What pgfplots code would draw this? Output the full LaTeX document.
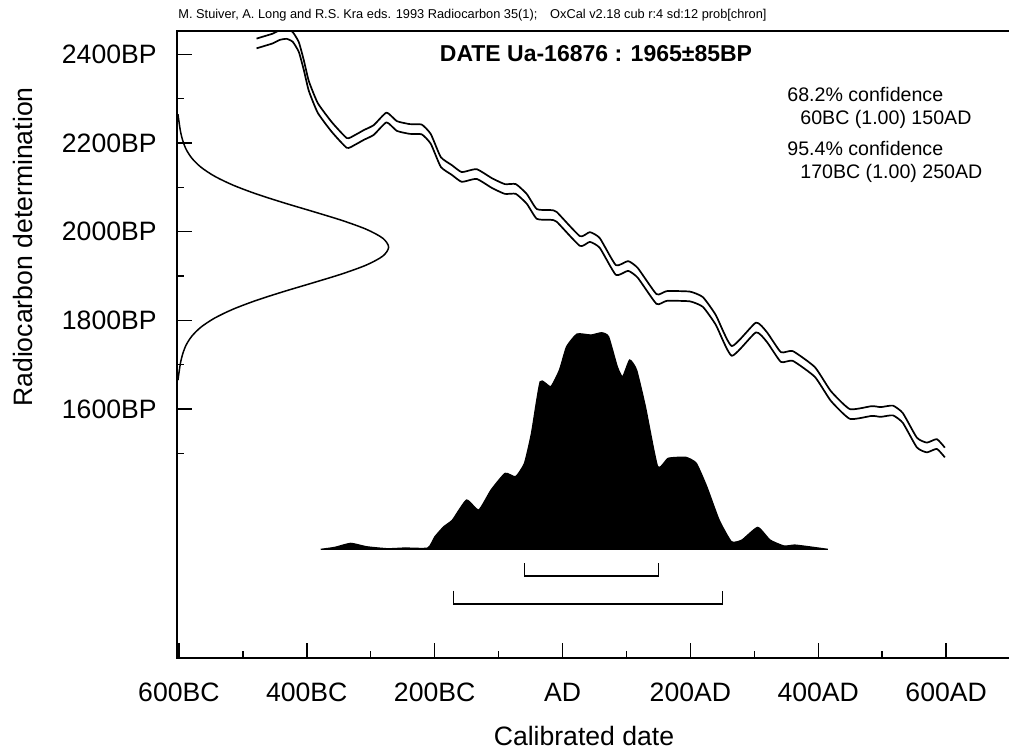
\documentclass[border=0pt]{standalone}
\usepackage{pgfplots}
\pgfplotsset{compat=1.18}
\usepackage{fontspec}
\setmainfont{Liberation Sans}

\begin{document}
\begin{tikzpicture}
\useasboundingbox (0,0) rectangle (504.5pt,375.5pt);
\begin{axis}[
  at={(88.5pt,46.5pt)}, anchor=south west,
  scale only axis, width=417.5pt, height=313.5pt,
  xmin=-603, xmax=703, ymin=1038.5, ymax=2452.5,
  axis line style={line width=1pt},
  tick align=inside, tick pos=left,
  major tick length=7.5pt, minor tick length=3.5pt,
  every tick/.append style={black, line width=0.75pt},
  xtick={-600,-400,...,600},
  xticklabels={600BC,400BC,200BC,AD,200AD,400AD,600AD},
  minor xtick={-500,-300,-100,100,300,500,700},
  ytick={1600,1800,...,2400},
  yticklabels={1600BP,1800BP,2000BP,2200BP,2400BP},
  minor ytick={1500,1700,1900,2100,2300},
  ticklabel style={font=\fontsize{13.3}{15}\selectfont},
  xticklabel style={anchor=base, inner sep=0pt, yshift=-21.75pt},
  yticklabel style={anchor=east, inner sep=0pt, xshift=-10pt},
]
% calibration curve, upper and lower 1 sigma
\addplot[black, line width=0.85pt, line join=round, smooth, tension=0.3] coordinates {
(-478.6,2435.4) (-465.7,2441.0) (-453.2,2446.6) (-442.2,2454.5) (-431.3,2456.8) (-421.9,2450.0)
(-412.5,2427.5) (-404.7,2386.9) (-396.8,2339.5) (-382.8,2289.9) (-360.9,2247.0) (-337.4,2211.0)
(-324.9,2217.7) (-310.8,2229.0) (-295.2,2240.3) (-275.3,2268.5) (-259.2,2249.3) (-238.9,2242.5)
(-220.1,2241.4) (-206.0,2220.0) (-190.4,2168.1) (-173.2,2150.1) (-157.5,2134.3) (-134.5,2141.0)
(-110.6,2120.7) (-90.3,2107.2) (-73.0,2107.2) (-55.8,2084.7) (-40.2,2050.8) (-18.3,2048.6)
(-8.9,2044.1) (27.1,1989.9) (42.7,1998.9) (58.3,1985.4) (83.4,1924.5) (102.6,1933.6)
(117.8,1917.8) (147.0,1859.1) (163.1,1865.9) (199.1,1864.8) (219.5,1852.4) (239.8,1811.8)
(264.8,1741.9) (302.4,1794.8) (319.6,1773.4) (341.5,1728.3) (360.2,1730.6) (394.7,1694.5)
(419.7,1640.4) (449.4,1599.8) (483.8,1606.5) (497.9,1604.3) (516.7,1607.7) (532.3,1590.8)
(554.2,1535.5) (569.8,1524.2) (585.5,1532.1) (598.0,1512.9)
};
\addplot[black, line width=0.85pt, line join=round, smooth, tension=0.3] coordinates {
(-478.6,2413.4) (-465.7,2419.0) (-453.2,2424.6) (-442.2,2432.5) (-431.3,2434.8) (-421.9,2428.0)
(-412.5,2405.5) (-404.7,2364.9) (-396.8,2317.5) (-382.8,2267.9) (-360.9,2225.0) (-337.4,2189.0)
(-324.9,2195.7) (-310.8,2207.0) (-295.2,2218.3) (-275.3,2246.5) (-259.2,2227.3) (-238.9,2220.5)
(-220.1,2219.4) (-206.0,2198.0) (-190.4,2146.1) (-173.2,2128.1) (-157.5,2112.3) (-134.5,2119.0)
(-110.6,2098.7) (-90.3,2085.2) (-73.0,2085.2) (-55.8,2062.7) (-40.2,2028.8) (-18.3,2026.6)
(-8.9,2022.1) (27.1,1967.9) (42.7,1976.9) (58.3,1963.4) (83.4,1902.5) (102.6,1911.6)
(117.8,1895.8) (147.0,1837.1) (163.1,1843.9) (199.1,1842.8) (219.5,1830.4) (239.8,1789.8)
(264.8,1719.9) (302.4,1772.8) (319.6,1751.4) (341.5,1706.3) (360.2,1708.6) (394.7,1672.5)
(419.7,1618.4) (449.4,1577.8) (483.8,1584.5) (497.9,1582.3) (516.7,1585.7) (532.3,1568.8)
(554.2,1513.5) (569.8,1502.2) (585.5,1510.1) (598.0,1490.9)
};
% radiocarbon measurement 1965+-85BP
\addplot[black, line width=0.75pt, smooth] coordinates {
(-601.5,1665) (-599.6,1685) (-597.4,1705) (-593.9,1725) (-588.5,1745) (-579.4,1765)
(-565.2,1785) (-544.2,1805) (-515.5,1825) (-478.9,1845) (-435.8,1865) (-389.4,1885)
(-344.3,1905) (-306.4,1925) (-281.0,1945) (-272.0,1965) (-281.0,1985) (-306.4,2005)
(-344.3,2025) (-389.4,2045) (-435.8,2065) (-478.9,2085) (-515.5,2105) (-544.2,2125)
(-565.2,2145) (-579.4,2165) (-588.5,2185) (-593.9,2205) (-597.4,2225) (-599.6,2245)
(-601.5,2265)
};
% calibrated probability distribution
\addplot[fill=black, draw=black, line width=0.6pt, smooth, tension=0.3] coordinates {
(-378.1,1283.6) (-356.0,1288.1) (-331.3,1297.2) (-306.6,1289.5) (-273.7,1285.0) (-246.2,1286.6)
(-210.7,1286.6) (-199.6,1312.1) (-185.8,1334.6) (-172.2,1349.7) (-150.2,1394.8) (-131.1,1372.3)
(-111.8,1417.4) (-89.8,1455.0) (-73.4,1447.4) (-59.6,1477.6) (-48.6,1545.2) (-34.9,1661.6)
(-18.5,1650.3) (-4.8,1688.0) (6.3,1740.5) (22.7,1769.2) (44.6,1766.9) (61.2,1772.1)
(72.1,1763.1) (85.7,1695.5) (94.0,1672.9) (105.0,1710.6) (115.9,1688.0) (129.7,1605.2)
(148.9,1469.9) (165.3,1488.9) (192.9,1491.1) (209.3,1477.6) (225.7,1424.8) (245.0,1349.7)
(264.2,1300.8) (280.6,1304.6) (305.3,1333.2) (324.6,1304.6) (346.5,1291.1) (362.9,1293.3)
(385.0,1289.5) (415.0,1283.6)
} -- cycle;
% 68.2% and 95.4% ranges
\addplot[black, line width=0.6pt] coordinates {(-60,1252.7) (-60,1223.4) (150,1223.4) (150,1252.7)};
\addplot[black, line width=0.6pt] coordinates {(-170,1190.7) (-170,1160.3) (250,1160.3) (250,1190.7)};
\end{axis}

\node[anchor=base west, inner sep=0pt, font=\fontsize{6.4}{7}\selectfont] at (89pt,366.4pt)
  {M. Stuiver, A. Long and R.S. Kra eds. 1993 Radiocarbon 35(1);\quad OxCal v2.18 cub r:4 sd:12 prob[chron]};
\node[anchor=base, inner sep=0pt, font=\bfseries\fontsize{11.5}{13}\selectfont] at (298pt,344.9pt)
  {DATE Ua-16876 : 1965±85BP};
\begin{scope}[every node/.style={anchor=base west, inner sep=0pt, font=\fontsize{9.8}{11}\selectfont}]
\node at (393.5pt,324.5pt) {68.2\% confidence};
\node at (400pt,313pt) {60BC (1.00) 150AD};
\node at (393.5pt,297.5pt) {95.4\% confidence};
\node at (400pt,286pt) {170BC (1.00) 250AD};
\end{scope}
\node[anchor=base, inner sep=0pt, font=\fontsize{13.3}{15}\selectfont] at (292pt,2.75pt) {Calibrated date};
\node[anchor=base, rotate=90, inner sep=0pt, font=\fontsize{13.3}{15}\selectfont] at (16.5pt,252pt) {Radiocarbon determination};
\end{tikzpicture}
\end{document}
